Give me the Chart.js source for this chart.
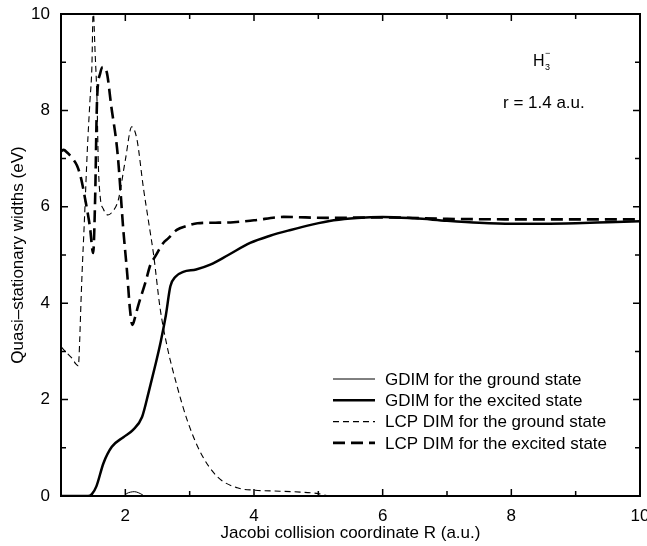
<!DOCTYPE html>
<html>
<head>
<meta charset="utf-8">
<script src="https://cdn.jsdelivr.net/npm/chart.js@4.4.0/dist/chart.umd.min.js"></script>
<style>
  html, body { margin: 0; padding: 0; background: #fff; }
</style>
</head>
<body>
<canvas id="chart" width="647" height="546"></canvas>
<script>
// Quasi-stationary widths of H3- vs Jacobi coordinate R (r = 1.4 a.u.)

const FONT = "'Liberation Sans', Arial, sans-serif";

// GDIM, ground state (thin solid) - basically zero, tiny bump near R = 2.1
const gdimGroundR = [1, 1.98, 2.02, 2.08, 2.14, 2.2, 2.26, 2.3, 10];
const gdimGroundW = [0, 0, 0.05, 0.08, 0.09, 0.07, 0.03, 0, 0];

// GDIM, excited state (thick solid)
const gdimExcR = [1, 1.42, 1.48, 1.55, 1.66, 1.79, 1.97, 2.12, 2.26, 2.36, 2.46, 2.55, 2.63, 2.7,
                  2.78, 2.9, 3.1, 3.32, 3.6, 3.94, 4.25, 4.57, 4.9, 5.24, 5.6, 6.0, 6.5, 7.0,
                  7.5, 8.0, 8.5, 9.0, 9.5, 10];
const gdimExcW = [0, 0, 0.04, 0.2, 0.68, 1.02, 1.22, 1.37, 1.64, 2.14, 2.68, 3.2, 3.75, 4.35,
                  4.55, 4.65, 4.7, 4.8, 5.0, 5.25, 5.4, 5.52, 5.63, 5.72, 5.77, 5.79, 5.76, 5.71,
                  5.67, 5.65, 5.65, 5.66, 5.68, 5.7];

// LCP DIM, ground state (thin dashed)
const lcpGroundR = [1, 1.08, 1.17, 1.23, 1.27, 1.29, 1.31, 1.33, 1.36, 1.41, 1.45, 1.48, 1.5,
                    1.53, 1.56, 1.58, 1.61, 1.66, 1.73, 1.8, 1.89, 2.0, 2.1, 2.18, 2.28, 2.36,
                    2.44, 2.54, 2.65, 2.8, 2.96, 3.17, 3.43, 3.74, 4.02, 4.4, 4.72, 5.0, 5.2, 10];
const lcpGroundW = [3.1, 2.98, 2.86, 2.74, 2.7, 3.2, 4.0, 4.7, 5.6, 7.2, 8.2, 8.9, 10.1,
                    9.2, 8.2, 6.9, 6.2, 5.95, 5.83, 5.9, 6.14, 6.97, 7.66, 7.4, 6.4, 5.7,
                    5.0, 3.9, 3.1, 2.3, 1.58, 0.9, 0.4, 0.17, 0.12, 0.1, 0.08, 0.05, 0, 0];

// LCP DIM, excited state (thick dashed)
const lcpExcR = [1, 1.04, 1.1, 1.18, 1.25, 1.31, 1.37, 1.45, 1.5, 1.53, 1.56, 1.61, 1.65, 1.71,
                 1.78, 1.88, 1.97, 2.03, 2.07, 2.11, 2.15, 2.2, 2.31, 2.39, 2.46, 2.59, 2.67,
                 2.8, 2.95, 3.12, 3.4, 3.68, 4.0, 4.46, 5.14, 6.0, 7, 8, 9, 10];
const lcpExcW = [7.15, 7.18, 7.12, 7.0, 6.85, 6.6, 6.2, 5.58, 5.04, 6.14, 8.2, 8.77, 8.9, 8.8,
                 8.1, 7.1, 5.5, 4.6, 3.9, 3.55, 3.7, 3.95, 4.42, 4.8, 4.96, 5.25, 5.35,
                 5.52, 5.6, 5.66, 5.67, 5.68, 5.72, 5.79, 5.77, 5.78, 5.75, 5.74, 5.74, 5.74];

const seriesLabels = [
  'GDIM for the ground state',
  'GDIM for the excited state',
  'LCP DIM for the ground state',
  'LCP DIM for the excited state',
];

const xLabeled = [2, 4, 6, 8, 10];
const yLabeled = [0, 2, 4, 6, 8, 10];

const toPoints = (xs, ys) => xs.map((v, i) => ({ x: v, y: ys[i] }));

function line(label, xs, ys, width, dash) {
  return {
    label,
    data: toPoints(xs, ys),
    borderColor: '#000',
    backgroundColor: '#000',
    borderWidth: width,
    borderDash: dash,
    pointRadius: 0,
    showLine: true,
    fill: false,
    cubicInterpolationMode: 'monotone',
  };
}

// ─── frame with inward ticks on all four sides (gnuplot look) ────────────────
const frameTicks = {
  id: 'frameTicks',
  afterDatasetsDraw(chart) {
    const { ctx, chartArea: a, scales: { x, y } } = chart;
    ctx.save();
    ctx.setLineDash([]);
    ctx.strokeStyle = '#000';
    ctx.lineWidth = 1.5;
    ctx.beginPath();
    x.ticks.forEach(t => {
      const px = x.getPixelForValue(t.value);
      const len = xLabeled.includes(t.value) ? 7 : 5;
      ctx.moveTo(px, a.bottom); ctx.lineTo(px, a.bottom - len);
      ctx.moveTo(px, a.top);    ctx.lineTo(px, a.top + len);
    });
    y.ticks.forEach(t => {
      const py = y.getPixelForValue(t.value);
      const len = yLabeled.includes(t.value) ? 7 : 5;
      ctx.moveTo(a.left, py);  ctx.lineTo(a.left + len, py);
      ctx.moveTo(a.right, py); ctx.lineTo(a.right - len, py);
    });
    ctx.stroke();
    ctx.lineWidth = 2;
    ctx.strokeRect(a.left, a.top, a.right - a.left, a.bottom - a.top);
    ctx.restore();
  },
};

// ─── in-plot legend and labels ───────────────────────────────────────────────
const insideText = {
  id: 'insideText',
  afterDraw(chart) {
    const { ctx, chartArea: a } = chart;
    ctx.save();
    ctx.fillStyle = '#000';
    ctx.strokeStyle = '#000';
    ctx.font = `17px ${FONT}`;
    ctx.textBaseline = 'middle';

    // legend, bottom right
    const lx = a.right - 307;
    const ly = a.bottom - 117;
    chart.data.datasets.forEach((ds, i) => {
      const yy = ly + i * 21.3;
      ctx.lineWidth = ds.borderWidth;
      ctx.setLineDash(ds.borderDash || []);
      ctx.beginPath();
      ctx.moveTo(lx, yy);
      ctx.lineTo(lx + 42, yy);
      ctx.stroke();
      ctx.textAlign = 'left';
      ctx.fillText(ds.label, lx + 52, yy + 1);
    });

    // H3- and r label, top right
    ctx.textAlign = 'left';
    ctx.textBaseline = 'alphabetic';
    ctx.font = `16px ${FONT}`;
    ctx.fillText('H', a.left + 472, a.top + 52);
    ctx.font = `9px ${FONT}`;
    ctx.fillText('3', a.left + 484, a.top + 56);
    ctx.fillText('\u2212', a.left + 484, a.top + 42);
    ctx.font = `17px ${FONT}`;
    ctx.fillText('r = 1.4 a.u.', a.left + 442, a.top + 94);
    ctx.restore();
  },
};

new Chart(document.getElementById('chart'), {
  type: 'scatter',
  data: {
    datasets: [
      line(seriesLabels[0], gdimGroundR, gdimGroundW, 1, []),
      line(seriesLabels[1], gdimExcR, gdimExcW, 2.5, []),
      line(seriesLabels[2], lcpGroundR, lcpGroundW, 1.1, [6, 4]),
      line(seriesLabels[3], lcpExcR, lcpExcW, 2.6, [12, 6]),
    ],
  },
  options: {
    responsive: false,
    animation: false,
    layout: { padding: { top: 14, right: 7, left: 0, bottom: 0 } },
    plugins: {
      legend: { display: false },
      tooltip: { enabled: false },
    },
    scales: {
      x: {
        type: 'linear',
        min: 1,
        max: 10,
        grid: { display: false, drawTicks: false },
        border: { display: false },
        ticks: {
          stepSize: 1,
          autoSkip: false,
          maxRotation: 0,
          padding: 10,
          color: '#000',
          font: { family: FONT, size: 17 },
          callback: v => (xLabeled.includes(v) ? String(v) : ''),
        },
        title: {
          display: true,
          text: 'Jacobi collision coordinate R (a.u.)',
          color: '#000',
          font: { family: FONT, size: 17 },
          padding: { top: 0, bottom: 2 },
        },
        afterFit: s => { s.height = 50; s.paddingLeft = 0; s.paddingRight = 0; },
      },
      y: {
        type: 'linear',
        min: 0,
        max: 10,
        grid: { display: false, drawTicks: false },
        border: { display: false },
        ticks: {
          stepSize: 1,
          autoSkip: false,
          padding: 11,
          color: '#000',
          font: { family: FONT, size: 17 },
          callback: v => (yLabeled.includes(v) ? String(v) : ''),
        },
        title: {
          display: true,
          text: 'Quasi\u2013stationary widths (eV)',
          color: '#000',
          font: { family: FONT, size: 17 },
          padding: { top: 8, bottom: 0 },
        },
        afterFit: s => { s.width = 61; s.paddingTop = 0; s.paddingBottom = 0; },
      },
    },
  },
  plugins: [frameTicks, insideText],
});
</script>
</body>
</html>
